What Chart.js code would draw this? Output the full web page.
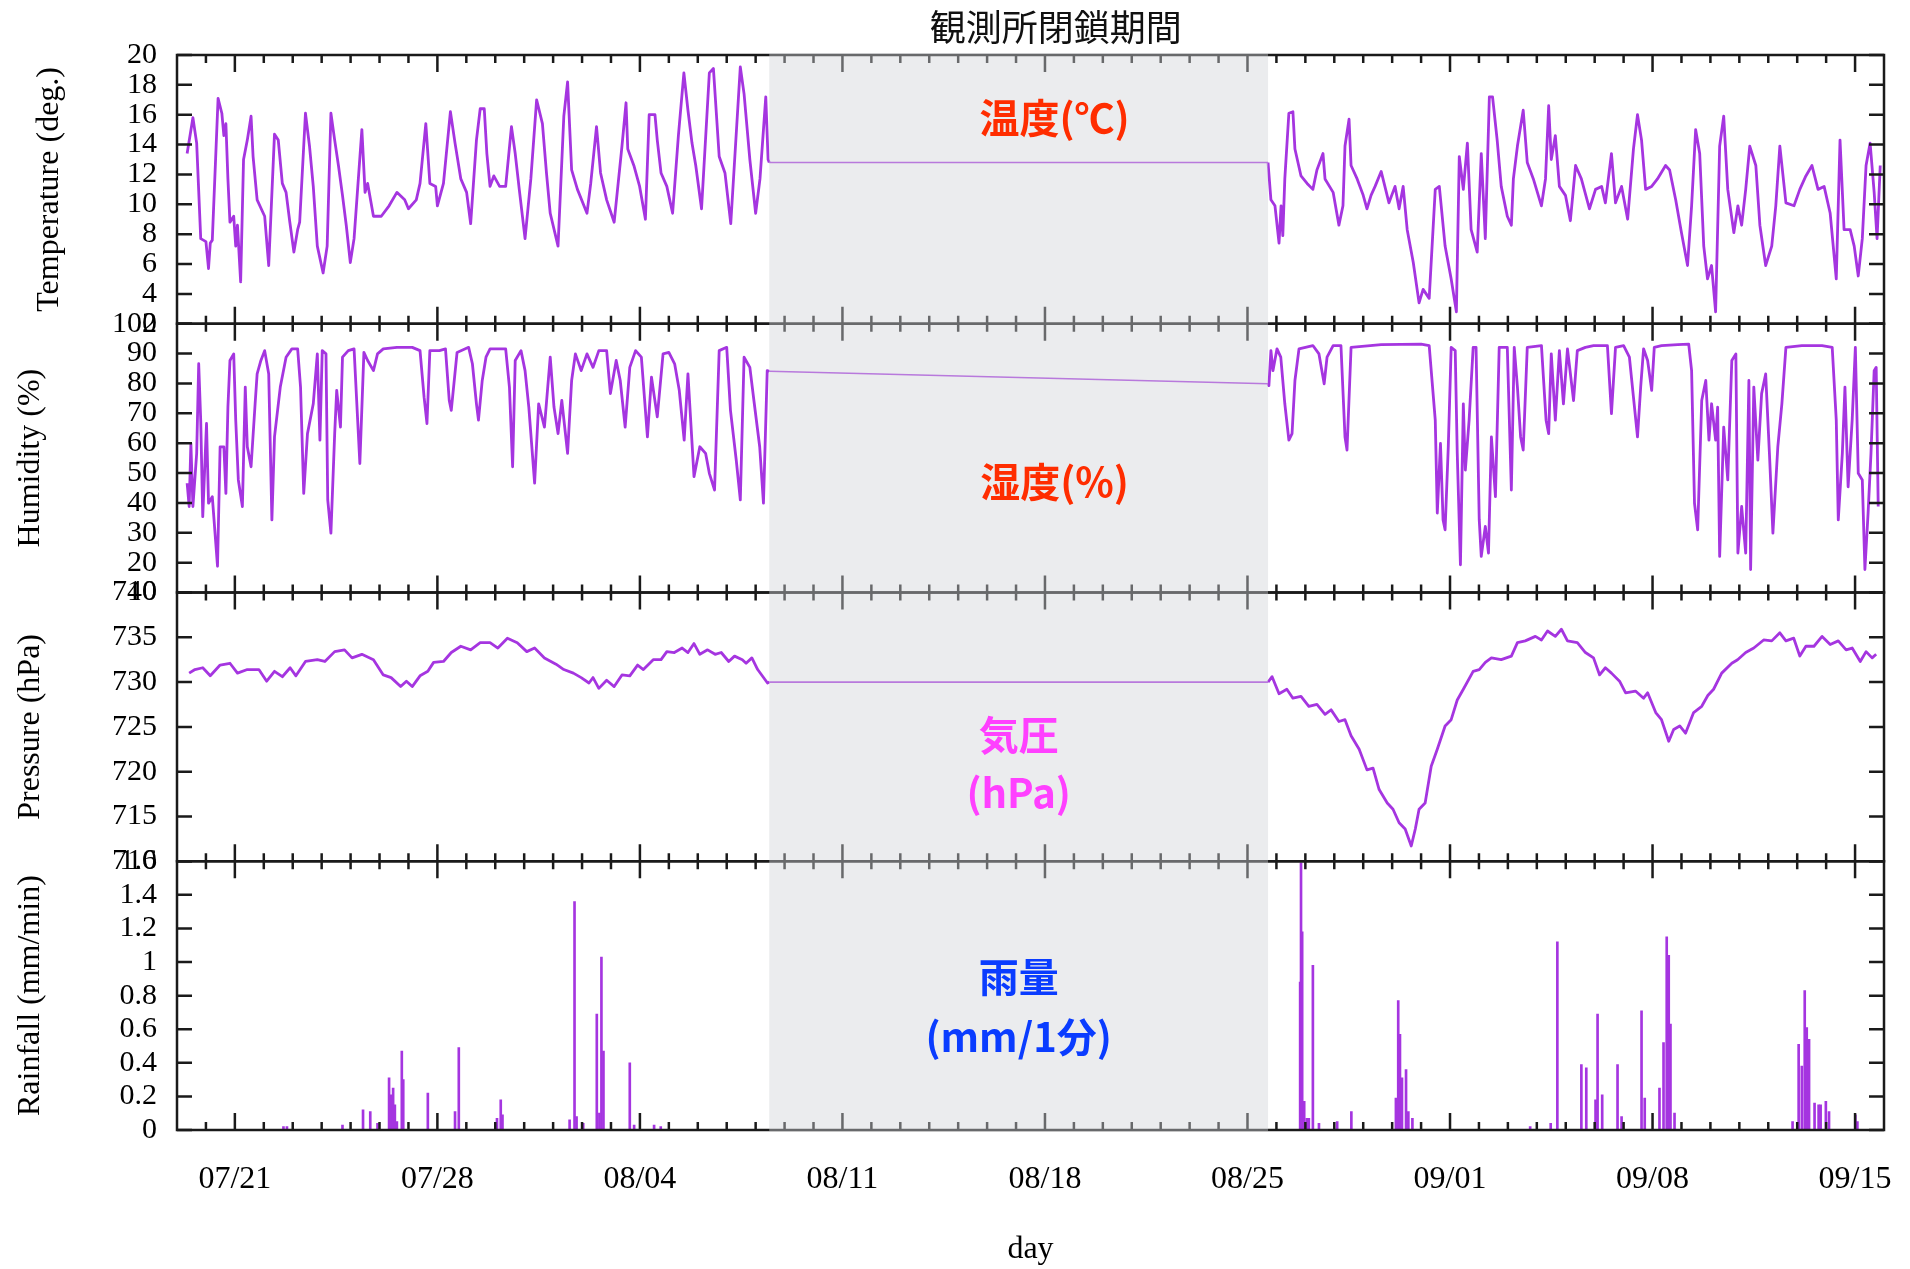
<!DOCTYPE html>
<html lang="ja">
<head>
<meta charset="utf-8">
<title>観測所閉鎖期間</title>
<script src="https://cdn.jsdelivr.net/npm/chart.js@4.4.1/dist/chart.umd.min.js"></script>
<style>
  html, body { margin: 0; padding: 0; background: #fff; }
  canvas { display: block; }
</style>
</head>
<body>
<canvas id="weather" width="1910" height="1269"></canvas>
<script>
// days counted from 07/21 (= 0)
const tickDays = [0, 7, 14, 21, 28, 35, 42, 49, 56];
const tickLabels = ["07/21", "07/28", "08/04", "08/11", "08/18", "08/25", "09/01", "09/08", "09/15"];
const closedFrom = 18.47;
const closedTo = 35.71;

const tempDays = [
  -1.65, -1.45, -1.32, -1.18, -1.0, -0.91, -0.85, -0.78, -0.58, -0.45, -0.38, -0.31, -0.24, -0.17, -0.04, 0.03, 0.09, 0.2,
  0.3, 0.43, 0.56, 0.63, 0.77, 1.03, 1.17, 1.37, 1.5, 1.64, 1.77, 1.9, 2.04, 2.17, 2.24, 2.44, 2.58, 2.71, 2.85, 3.05, 3.19,
  3.32, 3.45, 3.58, 3.72, 3.85, 3.99, 4.12, 4.39, 4.5, 4.59, 4.79, 5.06, 5.33, 5.6, 5.87, 6.0, 6.27, 6.4, 6.6, 6.74, 6.94,
  7.0, 7.21, 7.45, 7.61, 7.81, 8.01, 8.15, 8.35, 8.48, 8.62, 8.71, 8.82, 8.95, 9.15, 9.36, 9.56, 9.69, 9.83, 10.03, 10.23,
  10.43, 10.63, 10.77, 10.9, 11.17, 11.37, 11.5, 11.64, 11.84, 12.17, 12.3, 12.5, 12.64, 12.85, 13.11, 13.38, 13.52, 13.58,
  13.79, 13.99, 14.19, 14.32, 14.52, 14.6, 14.73, 14.93, 15.13, 15.33, 15.52, 15.66, 15.8, 15.93, 16.13, 16.4, 16.54, 16.74,
  16.94, 17.14, 17.47, 17.6, 17.8, 18.0, 18.15, 18.35, 18.43, 18.47,
  35.71, 35.81, 35.95, 36.09, 36.16, 36.22, 36.29, 36.43, 36.57, 36.64, 36.85, 37.06, 37.26, 37.4, 37.61, 37.68, 37.96,
  38.16, 38.3, 38.37, 38.51, 38.58, 38.79, 39.0, 39.13, 39.27, 39.41, 39.62, 39.89, 40.1, 40.24, 40.38, 40.52, 40.73, 40.93,
  41.07, 41.28, 41.49, 41.63, 41.83, 42.04, 42.22, 42.32, 42.46, 42.6, 42.73, 42.94, 43.08, 43.22, 43.36, 43.47, 43.63,
  43.77, 43.98, 44.12, 44.19, 44.33, 44.53, 44.67, 44.88, 45.16, 45.3, 45.41, 45.5, 45.64, 45.78, 45.99, 46.16, 46.34,
  46.54, 46.82, 47.03, 47.24, 47.37, 47.58, 47.72, 47.93, 48.14, 48.34, 48.48, 48.62, 48.76, 48.97, 49.17, 49.45, 49.59,
  49.8, 50.0, 50.21, 50.35, 50.49, 50.63, 50.77, 50.9, 51.04, 51.18, 51.32, 51.46, 51.6, 51.81, 51.95, 52.08, 52.22, 52.36,
  52.57, 52.71, 52.91, 53.12, 53.26, 53.4, 53.61, 53.89, 54.09, 54.3, 54.51, 54.72, 54.93, 55.14, 55.35, 55.48, 55.62,
  55.83, 55.97, 56.11, 56.25, 56.38, 56.52, 56.66, 56.76, 56.87
];
const tempVals = [
  13.4, 15.8, 14.1, 7.7, 7.5, 5.7, 7.4, 7.6, 17.1, 16.1, 14.6, 15.4, 11.7, 8.8, 9.2, 7.2, 8.6, 4.8,
  13.0, 14.3, 15.9, 13.2, 10.3, 9.2, 5.9, 14.7, 14.3, 11.4, 10.8, 8.8, 6.8, 8.3, 8.8, 16.1, 13.9, 11.2, 7.2, 5.4, 7.2,
  16.1, 14.3, 12.6, 10.6, 8.6, 6.1, 7.7, 15.0, 10.8, 11.4, 9.2, 9.2, 9.9, 10.8, 10.3, 9.7, 10.3, 11.4, 15.4, 11.4, 11.2,
  9.9, 11.4, 16.2, 14.1, 11.7, 10.8, 8.7, 14.3, 16.4, 16.4, 13.4, 11.2, 11.9, 11.2, 11.2, 15.2, 13.4, 11.0, 7.7, 11.7,
  17.0, 15.4, 12.1, 9.4, 7.2, 15.9, 18.2, 12.3, 11.0, 9.4, 11.4, 15.2, 12.1, 10.3, 8.8, 13.9, 16.8, 13.7,
  12.6, 11.2, 9.0, 16.0, 16.0, 14.3, 12.1, 11.2, 9.4, 14.6, 18.8, 16.3, 14.1, 12.6, 9.7, 18.8, 19.1, 13.2,
  12.1, 8.7, 19.2, 17.4, 13.0, 9.4, 11.7, 17.2, 13.0, 12.8,
  12.8, 10.3, 9.9, 7.4, 9.9, 7.9, 11.7, 16.1, 16.2, 13.7, 11.9, 11.4, 11.0, 12.3, 13.4, 11.7, 10.8,
  8.6, 9.9, 13.9, 15.7, 12.6, 11.7, 10.6, 9.7, 10.6, 11.2, 12.2, 10.1, 11.2, 9.7, 11.2, 8.3, 6.1, 3.4,
  4.3, 3.7, 11.0, 11.2, 7.2, 5.0, 2.8, 13.2, 11.0, 14.1, 8.3, 6.8, 13.4, 7.7, 17.2, 17.2, 14.3,
  11.2, 9.2, 8.6, 11.7, 13.9, 16.3, 12.8, 11.7, 9.9, 11.7, 16.6, 13.0, 14.6, 11.2, 10.6, 8.9, 12.6,
  11.7, 9.7, 11.0, 11.2, 10.1, 13.4, 10.1, 11.2, 9.0, 13.7, 16.0, 14.3, 11.0, 11.2, 11.7, 12.6, 12.3,
  10.3, 8.1, 5.9, 9.9, 15.0, 13.4, 7.2, 5.0, 5.9, 2.8, 13.9, 15.9, 11.0, 8.1, 9.9, 8.6, 11.0, 13.9,
  12.6, 8.6, 5.9, 7.2, 9.9, 13.9, 10.1, 9.9, 11.0, 11.9, 12.6, 11.0, 11.2, 9.4, 5.0, 14.3, 8.3,
  8.3, 7.2, 5.2, 7.7, 12.6, 14.1, 10.8, 7.7, 12.6
];

const humDays = [
  -1.65, -1.58, -1.52, -1.45, -1.32, -1.25, -1.18, -1.11, -0.98, -0.91, -0.78, -0.6, -0.51, -0.38, -0.31, -0.24, -0.17,
  -0.04, 0.03, 0.12, 0.26, 0.36, 0.43, 0.56, 0.7, 0.77, 0.9, 1.03, 1.17, 1.28, 1.37, 1.57, 1.77, 1.97, 2.17, 2.27, 2.38,
  2.51, 2.71, 2.85, 2.94, 3.02, 3.15, 3.21, 3.32, 3.45, 3.52, 3.65, 3.72, 3.92, 4.12, 4.32, 4.46, 4.59, 4.79, 4.93, 5.13,
  5.6, 6.13, 6.4, 6.54, 6.64, 6.74, 7.07, 7.28, 7.41, 7.48, 7.68, 8.08, 8.21, 8.35, 8.42, 8.55, 8.68, 8.82, 9.36, 9.49,
  9.6, 9.69, 9.89, 10.03, 10.16, 10.36, 10.5, 10.7, 10.9, 11.03, 11.17, 11.3, 11.5, 11.64, 11.77, 11.97, 12.17, 12.38,
  12.58, 12.85, 12.98, 13.18, 13.32, 13.49, 13.65, 13.85, 14.05, 14.26, 14.4, 14.6, 14.8, 15.0, 15.2, 15.36, 15.53,
  15.66, 15.87, 16.07, 16.27, 16.4, 16.58, 16.74, 17.0, 17.13, 17.33, 17.47, 17.6, 17.8, 17.94, 18.14, 18.27, 18.4, 18.47,
  35.71, 35.74, 35.81, 35.88, 36.02, 36.15, 36.29, 36.43, 36.54, 36.64, 36.78, 37.26, 37.47, 37.65, 37.75, 37.96, 38.23,
  38.37, 38.44, 38.58, 39.62, 41.0, 41.28, 41.49, 41.56, 41.67, 41.76, 41.83, 41.94, 42.04, 42.18, 42.25, 42.36, 42.46,
  42.53, 42.66, 42.8, 42.9, 43.01, 43.08, 43.22, 43.33, 43.43, 43.57, 43.7, 43.98, 44.12, 44.22, 44.33, 44.44, 44.53,
  44.67, 45.16, 45.32, 45.41, 45.5, 45.64, 45.78, 45.92, 46.06, 46.27, 46.4, 46.68, 46.96, 47.44, 47.58, 47.72, 48.0,
  48.2, 48.34, 48.48, 48.59, 48.69, 48.83, 48.97, 49.06, 49.31, 49.87, 50.25, 50.35, 50.45, 50.56, 50.7, 50.84, 50.95,
  51.04, 51.18, 51.25, 51.32, 51.46, 51.6, 51.74, 51.88, 51.95, 52.08, 52.22, 52.33, 52.39, 52.5, 52.64, 52.77, 52.91,
  53.04, 53.16, 53.33, 53.47, 53.61, 54.16, 54.86, 55.21, 55.35, 55.42, 55.56, 55.65, 55.76, 55.9, 56.01, 56.11, 56.25,
  56.34, 56.45, 56.55, 56.66, 56.73, 56.8
];
const humVals = [
  46.6, 38.8, 59.9, 38.8, 56.6, 86.6, 67.7, 35.4, 66.6, 39.9, 42.1, 18.8, 58.8, 58.8, 43.2, 72.1, 87.7,
  89.9, 67.7, 47.7, 38.8, 78.8, 58.8, 52.1, 73.2, 83.2, 87.7, 91.0, 83.2, 34.3, 62.1, 78.8, 88.8, 91.6, 91.6, 78.8, 43.2,
  63.2, 73.2, 89.9, 61.0, 91.0, 89.9, 41.0, 29.9, 63.2, 77.7, 65.4, 88.8, 91.0, 91.6, 53.2, 90.4, 87.7, 84.3, 89.9, 91.6,
  92.1, 92.1, 91.0, 75.4, 66.6, 91.0, 91.0, 91.6, 74.3, 71.0, 90.4, 92.1, 86.6, 73.2, 67.7, 81.0, 88.8, 91.6, 91.6, 78.8,
  52.1, 87.7, 91.0, 84.3, 72.1, 46.6, 73.2, 65.4, 88.8, 72.1, 63.2, 74.3, 56.6, 81.0, 89.9, 84.3, 89.9, 85.4,
  91.0, 91.0, 76.6, 87.7, 81.0, 65.4, 85.4, 91.0, 88.8, 62.1, 82.1, 68.8, 89.9, 90.4, 86.6, 77.7, 61.0,
  83.2, 48.8, 58.8, 56.6, 49.9, 44.3, 91.0, 92.1, 71.0, 54.3, 41.0, 88.8, 85.4, 74.3, 58.8, 39.9, 84.3, 84.1,
  79.9, 79.3, 91.0, 84.3, 91.6, 88.8, 73.2, 61.0, 63.2, 81.0, 91.6, 92.7, 89.9, 79.9, 88.8, 92.7, 92.7,
  62.1, 57.7, 92.1, 93.0, 93.2, 92.7, 67.7, 36.6, 59.9, 34.3, 31.0, 58.8, 92.1, 91.0, 56.6, 19.3, 73.2,
  51.0, 67.7, 92.1, 92.1, 34.3, 22.1, 32.1, 23.2, 62.1, 42.1, 92.1, 92.1, 44.3, 92.1, 78.8, 62.1, 57.7,
  92.1, 92.7, 67.7, 63.2, 89.9, 67.7, 91.0, 73.2, 91.6, 74.3, 91.0, 92.1, 92.7, 92.7, 69.9, 92.1, 92.7,
  88.8, 75.4, 62.1, 78.8, 91.6, 87.7, 77.7, 92.1, 92.7, 93.0, 93.2, 84.3, 39.9, 31.0, 74.3, 81.0, 61.0,
  73.2, 61.0, 72.1, 22.1, 65.4, 47.7, 87.7, 89.9, 23.2, 38.8, 23.2, 81.0, 17.7, 78.8, 54.3, 76.6, 83.2,
  56.6, 29.9, 58.8, 73.2, 92.1, 92.7, 92.7, 92.1, 67.7, 34.3, 56.6, 78.8, 45.4, 67.7, 92.1, 49.9, 47.7,
  17.7, 36.6, 56.6, 84.3, 85.4, 38.8
];

const presDays = [
  -1.58, -1.38, -1.11, -0.85, -0.51, -0.17, 0.09, 0.43, 0.83, 1.1, 1.37, 1.64, 1.91, 2.11, 2.44, 2.85, 3.11, 3.45, 3.79,
  4.05, 4.39, 4.79, 5.13, 5.4, 5.73, 5.93, 6.13, 6.4, 6.67, 6.87, 7.21, 7.48, 7.81, 8.15, 8.48, 8.82, 9.09, 9.42, 9.76,
  10.09, 10.36, 10.7, 11.1, 11.37, 11.7, 11.97, 12.24, 12.38, 12.58, 12.85, 13.11, 13.38, 13.65, 13.92, 14.12, 14.46,
  14.73, 14.93, 15.19, 15.46, 15.66, 15.87, 16.07, 16.34, 16.6, 16.81, 17.07, 17.27, 17.54, 17.67, 17.87, 18.07, 18.41,
  18.47,
  35.71, 35.85, 36.09, 36.36, 36.57, 36.85, 37.12, 37.4, 37.68, 37.89, 38.16, 38.37, 38.58, 38.86, 39.13, 39.34, 39.55,
  39.83, 40.03, 40.24, 40.45, 40.66, 40.8, 40.93, 41.14, 41.35, 41.56, 41.83, 42.04, 42.25, 42.46, 42.8, 43.01, 43.22,
  43.43, 43.77, 44.12, 44.33, 44.6, 44.95, 45.16, 45.37, 45.64, 45.85, 46.06, 46.4, 46.68, 46.96, 47.17, 47.37, 47.58,
  47.86, 48.07, 48.41, 48.69, 48.83, 49.11, 49.31, 49.56, 49.73, 49.94, 50.14, 50.42, 50.7, 50.91, 51.11, 51.39, 51.74,
  51.94, 52.22, 52.5, 52.84, 53.12, 53.4, 53.61, 53.88, 54.09, 54.3, 54.58, 54.86, 55.14, 55.42, 55.69, 55.9, 56.18,
  56.38, 56.59, 56.73
];
const presVals = [
  731.0, 731.4, 731.6, 730.7, 731.9, 732.1, 731.0, 731.4, 731.4, 730.1, 731.2, 730.6, 731.6, 730.7, 732.3, 732.5, 732.3,
  733.4, 733.6, 732.7, 733.1, 732.5, 730.8, 730.5, 729.5, 730.1, 729.5, 730.7, 731.2, 732.2, 732.3, 733.3, 734.0, 733.6,
  734.4, 734.4, 733.8, 734.9, 734.4, 733.4, 733.8, 732.7, 732.0, 731.4, 731.0, 730.5, 729.9, 730.5, 729.3, 730.2, 729.5,
  730.8, 730.7, 731.9, 731.4, 732.5, 732.5, 733.4, 733.3, 733.8, 733.3, 734.3, 733.1, 733.6, 733.1, 733.3, 732.3, 732.9,
  732.5, 732.1, 732.7, 731.4, 729.9, 730.0,
  730.0, 730.6, 728.7, 729.2, 728.2, 728.4, 727.3, 727.5, 726.4, 726.9, 725.6, 725.8, 724.0, 722.5, 720.2, 720.4, 718.0,
  716.5, 715.8, 714.3, 713.6, 711.7, 713.6, 715.8, 716.5, 720.6, 722.5, 725.1, 725.8, 728.0, 729.2, 731.2, 731.4, 732.2,
  732.7, 732.5, 732.9, 734.4, 734.6, 735.1, 734.7, 735.7, 735.1, 735.9, 734.6, 734.4, 733.3, 732.7, 730.8, 731.6, 731.0,
  730.1, 728.8, 729.0, 728.2, 728.8, 726.6, 725.8, 723.4, 724.7, 725.1, 724.3, 726.6, 727.3, 728.5, 729.2, 731.0, 732.1,
  732.5, 733.3, 733.8, 734.7, 734.6, 735.5, 734.6, 734.9, 732.9, 734.0, 734.0, 735.1, 734.2, 734.6, 733.6, 733.8, 732.3,
  733.4, 732.7, 733.1
];

const rainDays = [
  1.68, 1.8, 3.72, 4.43, 4.68, 4.93, 5.33, 5.4, 5.47, 5.53, 5.6, 5.77, 5.82, 6.67, 7.61, 7.74, 9.06, 9.19, 9.25,
  11.57, 11.74, 11.81, 12.04, 12.51, 12.6, 12.67, 12.74, 13.65, 13.8, 14.49, 14.72,
  36.82, 36.85, 36.89, 36.96, 37.05, 37.12, 37.26, 37.47, 38.1, 38.59, 40.13, 40.21, 40.27, 40.34, 40.48, 40.56, 40.7,
  44.77, 45.48, 45.71, 46.54, 46.71, 47.03, 47.1, 47.26, 47.79, 47.93, 48.62, 48.73, 49.24, 49.38, 49.49, 49.56, 49.62,
  49.76, 53.84, 54.05, 54.16, 54.26, 54.33, 54.41, 54.6, 54.74, 54.81, 54.99, 55.1, 56.01, 56.08
];
const rainVals = [
  0.02, 0.02, 0.03, 0.12, 0.11, 0.04, 0.31, 0.21, 0.25, 0.15, 0.05, 0.47, 0.30, 0.22, 0.11, 0.49, 0.07, 0.18, 0.09,
  0.06, 1.36, 0.08, 0.04, 0.69, 0.10, 1.03, 0.47, 0.40, 0.03, 0.03, 0.02,
  0.88, 1.59, 1.18, 0.17, 0.07, 0.07, 0.98, 0.04, 0.05, 0.11, 0.19, 0.77, 0.57, 0.31, 0.36, 0.11, 0.07,
  0.02, 0.04, 1.12, 0.39, 0.37, 0.18, 0.69, 0.21, 0.39, 0.08, 0.71, 0.19, 0.25, 0.52, 1.15, 1.04, 0.63,
  0.10, 0.05, 0.51, 0.38, 0.83, 0.61, 0.54, 0.16, 0.15, 0.15, 0.17, 0.11, 0.09, 0.05
];

const LINE = "#a535e0";
const SERIF = "'Liberation Serif', 'Times New Roman', serif";
const JP = "'Noto Sans CJK JP', 'Noto Sans', sans-serif";

const pairs = (xs, ys) => xs.map((x, i) => ({ x, y: ys[i] }));

// gap segment (station closed) drawn thinner
const gapSegment = {
  borderWidth: (c) => (c.p1.parsed.x - c.p0.parsed.x > 5 ? 1.6 : undefined),
};

const panelIds = ["yT", "yH", "yP", "yR"];

const fixWidth = (s) => {
  s.width = 177;
  s.paddingTop = 0;
  s.paddingBottom = 0;
};

const yAxis = (min, max, step, title, weight, titlePad, fmt) => ({
  type: "linear",
  position: "left",
  stack: "panels",
  stackWeight: 1,
  weight,
  min, max,
  grid: { display: false, drawTicks: false },
  border: { display: false },
  ticks: {
    stepSize: step,
    autoSkip: false,
    padding: 20,
    color: "#000",
    font: { family: SERIF, size: 30 },
    callback: fmt || ((v) => v),
  },
  title: {
    display: true,
    text: title,
    color: "#000",
    font: { family: SERIF, size: 32 },
    padding: { top: titlePad, bottom: 0 },
  },
  afterFit: fixWidth,
});

const boxLabels = [
  { text: "温度(℃)", day: 28.33, axis: "yT", value: 15.8, color: "#ff2d00" },
  { text: "湿度(%)", day: 28.33, axis: "yH", value: 47.0, color: "#ff2d00" },
  { text: "気圧", day: 27.09, axis: "yP", value: 724.1, color: "#ff40ff" },
  { text: "(hPa)", day: 27.09, axis: "yP", value: 717.6, color: "#ff40ff" },
  { text: "雨量", day: 27.09, axis: "yR", value: 0.915, color: "#0a3cff" },
  { text: "(mm/1分)", day: 27.09, axis: "yR", value: 0.552, color: "#0a3cff" },
];

const framePlugin = {
  id: "frame",
  afterDraw(chart) {
    const { ctx, chartArea: a, scales } = chart;
    const x = scales.x;
    ctx.save();
    ctx.strokeStyle = "#1a1a1a";
    ctx.lineWidth = 2.5;

    panelIds.forEach((id) => {
      const s = scales[id];
      const top = s.top;
      const bot = s.bottom;
      ctx.beginPath();
      for (let d = Math.ceil(x.min) + 1; d < x.max; d++) {
        const px = x.getPixelForValue(d);
        const len = d % 7 === 0 ? 17 : 8;
        ctx.moveTo(px, top); ctx.lineTo(px, top + len);
        ctx.moveTo(px, bot); ctx.lineTo(px, bot - len);
      }
      s.ticks.forEach((t) => {
        const py = s.getPixelForValue(t.value);
        ctx.moveTo(a.left, py); ctx.lineTo(a.left + 15, py);
        ctx.moveTo(a.right, py); ctx.lineTo(a.right - 15, py);
      });
      ctx.stroke();
      ctx.strokeRect(a.left, top, a.right - a.left, bot - top);
    });

    // closed period veil
    const x0 = x.getPixelForValue(closedFrom);
    const x1 = x.getPixelForValue(closedTo);
    ctx.fillStyle = "rgba(208, 211, 215, 0.43)";
    ctx.fillRect(x0, a.top - 2, x1 - x0, a.bottom - a.top + 3);

    ctx.textAlign = "center";
    ctx.textBaseline = "middle";
    ctx.font = `bold 40px ${JP}`;
    boxLabels.forEach((l) => {
      ctx.fillStyle = l.color;
      ctx.fillText(l.text, x.getPixelForValue(l.day), scales[l.axis].getPixelForValue(l.value));
    });

    ctx.fillStyle = "#111";
    ctx.font = `36px ${JP}`;
    ctx.fillText("観測所閉鎖期間", x.getPixelForValue(28.37), a.top / 2);
    ctx.restore();
  },
};

const lineSet = (data, axis) => ({
  type: "line",
  data,
  yAxisID: axis,
  borderColor: LINE,
  borderWidth: 2.8,
  borderJoinStyle: "round",
  pointRadius: 0,
  tension: 0,
  segment: gapSegment,
});

new Chart(document.getElementById("weather"), {
  type: "line",
  data: {
    datasets: [
      lineSet(pairs(tempDays, tempVals), "yT"),
      lineSet(pairs(humDays, humVals), "yH"),
      lineSet(pairs(presDays, presVals), "yP"),
      {
        type: "bar",
        data: pairs(rainDays, rainVals),
        yAxisID: "yR",
        backgroundColor: LINE,
        borderWidth: 0,
        barThickness: 2,
      },
    ],
  },
  options: {
    responsive: false,
    animation: false,
    events: [],
    layout: { padding: { top: 55, right: 26, left: 0, bottom: 0 } },
    plugins: { legend: { display: false }, tooltip: { enabled: false } },
    scales: {
      x: {
        type: "linear",
        min: -2,
        max: 57,
        offset: false,
        grid: { display: false, drawTicks: false },
        border: { display: false },
        afterBuildTicks: (s) => { s.ticks = tickDays.map((v) => ({ value: v })); },
        ticks: {
          autoSkip: false,
          maxRotation: 0,
          padding: 30,
          color: "#000",
          font: { family: SERIF, size: 32 },
          callback: (v) => tickLabels[tickDays.indexOf(v)],
        },
        title: {
          display: true,
          text: "day",
          color: "#000",
          font: { family: SERIF, size: 32 },
          padding: { top: 0, bottom: 0 },
        },
        afterFit: (s) => {
          s.height = 139;
          s.paddingLeft = 0;
          s.paddingRight = 0;
        },
      },
      yT: yAxis(2, 20, 2, "Temperature (deg.)", 4, 30),
      yH: yAxis(10, 100, 10, "Humidity (%)", 3, 11),
      yP: yAxis(710, 740, 5, "Pressure (hPa)", 2, 11),
      yR: yAxis(0, 1.6, 0.2, "Rainfall (mm/min)", 1, 11, (v) => +v.toFixed(1)),
    },
  },
  plugins: [framePlugin],
});
</script>
</body>
</html>
